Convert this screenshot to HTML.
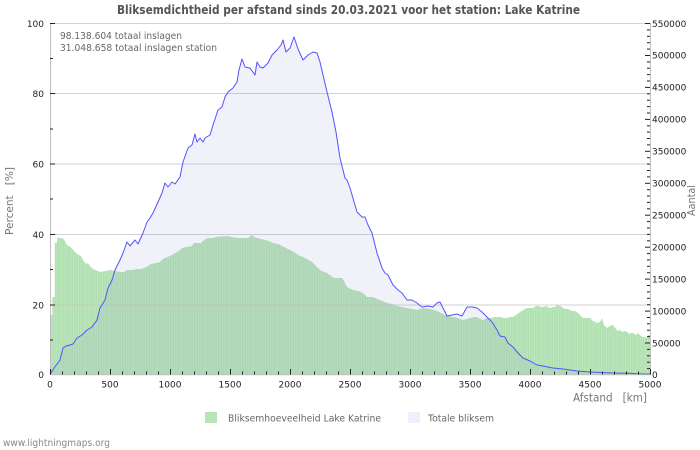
<!DOCTYPE html>
<html><head><meta charset="utf-8"><style>
html,body{margin:0;padding:0;background:#fff;}
svg{display:block;}
text{font-family:"DejaVu Sans","Liberation Sans",sans-serif;}
</style></head><body>
<svg width="700" height="450" viewBox="0 0 700 450" xmlns="http://www.w3.org/2000/svg">
<defs>
<pattern id="st" patternUnits="userSpaceOnUse" x="50" y="0" width="2.4" height="10">
<rect x="0" y="0" width="2.4" height="10" fill="#b0e0b0"/>
<rect x="1.8" y="0" width="0.6" height="10" fill="#c6ebc6"/>
</pattern>
</defs>
<rect width="700" height="450" fill="#fff"/>
<!-- title -->
<text x="348.5" y="14" text-anchor="middle" font-size="12" font-weight="bold" fill="#555" textLength="463" lengthAdjust="spacingAndGlyphs">Bliksemdichtheid per afstand sinds 20.03.2021 voor het station: Lake Katrine</text>

<!-- green bars -->
<polygon fill="url(#st)" points="50,374.5 50,315 52.4,315 52.4,297 54.8,297 54.8,243 57,243 57,238 62,238 64.4,240 66.8,245 69,246 71.6,248 74,251 76,253 79,255 81,256 83,260 86,264 88,263 90,266 93,269 95,270 98,271 100,272 105,271 110,270 115,271 120,272 124,272 127,270 134,270 136,269 141,269 144,268 146,267 148,266 151,264 156,263 160,262 163,259 165,258 170,256 172,255 175,253 177,252 180,250 182,248 187,247 192,246 194,243 201,243 204,240 208,238 213,238 216,237 227,236 232,237 237,238 243,238 248,238 252,235 254,237 257,238 261,239 265,240 269,241 273,243 278,244 282,246 286,248 290,250 294,252 297,254 300,256 303,257 307,259 312,262 316,266 320,270 324,272 327,273 330,275 334,278 342,278 344,281 347,287 353,290 358,291 363,293 367,297 373,297 380,300 387,303 392,304 397,306 402,307 407,308 412,309 417,310 423,308 430,309 437,311 441,313 445,315 449,316 453,317 458,318 463,320 467,319 470,318 474,317 477,317 480,319 483,320 487,318 490,318 495,317 500,317 504,318 507,318 510,317 513,317 516,315 520,312 523,310 527,308 530,308 533,308 536,306 538,306 541,307 543,307 546,306 550,308 553,307 555,307 557,305 560,306 562,307 565,309 568,309 572,311 575,311 578,313 581,316 583,318 587,318 590,318 593,321 597,323 600,322 602,318 604,325 607,328 610,326 613,325 615,328 618,331 620,330 622,332 625,331 627,332 629,334 631,333 633,333 636,335 638,333 641,336 643,337 645,337 647,338 648,335 650,335 650,374.5"/>

<!-- gridlines -->
<g stroke="#c4c4c4" stroke-width="1" opacity="0.75">
<line x1="50" y1="23.5" x2="650" y2="23.5"/>
<line x1="50" y1="93.5" x2="650" y2="93.5"/>
<line x1="50" y1="164" x2="650" y2="164"/>
<line x1="50" y1="234.5" x2="650" y2="234.5"/>
<line x1="50" y1="305" x2="650" y2="305"/>
</g>

<!-- total area -->
<polygon fill="#9090d8" fill-opacity="0.13" points="50,374.5 50,374 51,373 54,368 57,364 60,360 63,348 66,346 70,345 73,344 77,338 82,335 87,330 92,327 97,320 100,308 105,300 108,288 112,280 115,270 120,260 123,253 127,242 130,246 135,240 138,244 143,233 147,222 150,218 153,213 158,202 162,193 165,183 168,187 172,182 175,184 180,177 183,162 188,148 192,145 195,134 197,142 200,138 203,142 205,138 210,135 213,125 218,110 222,107 225,97 228,92 233,88 237,82 239,70 242,59 245,67 250,68 255,75 257,62 260,67 263,68 268,63 272,55 277,50 281,45 283,40 286,52 290,48 294,37 298,49 303,60 308,55 313,52 317,53 320,62 323,75 327,92 332,112 336,132 340,158 345,178 347,180 350,188 357,212 362,217 365,217 368,225 372,233 377,253 382,268 385,273 388,275 393,285 398,290 402,293 407,300 412,300 417,303 422,307 428,306 433,307 437,303 440,302 443,308 447,316 452,315 457,314 462,316 467,307 472,307 477,308 482,312 487,317 492,322 497,330 500,336 505,337 508,343 513,347 518,353 523,358 530,361 537,365 543,366 553,368 563,369 577,371 590,372 613,373 630,373.3 643,374 650,374 650,374.5"/>
<polyline fill="none" stroke="#5252ff" stroke-width="1" stroke-linejoin="round" points="50,374 51,373 54,368 57,364 60,360 63,348 66,346 70,345 73,344 77,338 82,335 87,330 92,327 97,320 100,308 105,300 108,288 112,280 115,270 120,260 123,253 127,242 130,246 135,240 138,244 143,233 147,222 150,218 153,213 158,202 162,193 165,183 168,187 172,182 175,184 180,177 183,162 188,148 192,145 195,134 197,142 200,138 203,142 205,138 210,135 213,125 218,110 222,107 225,97 228,92 233,88 237,82 239,70 242,59 245,67 250,68 255,75 257,62 260,67 263,68 268,63 272,55 277,50 281,45 283,40 286,52 290,48 294,37 298,49 303,60 308,55 313,52 317,53 320,62 323,75 327,92 332,112 336,132 340,158 345,178 347,180 350,188 357,212 362,217 365,217 368,225 372,233 377,253 382,268 385,273 388,275 393,285 398,290 402,293 407,300 412,300 417,303 422,307 428,306 433,307 437,303 440,302 443,308 447,316 452,315 457,314 462,316 467,307 472,307 477,308 482,312 487,317 492,322 497,330 500,336 505,337 508,343 513,347 518,353 523,358 530,361 537,365 543,366 553,368 563,369 577,371 590,372 613,373 630,373.3 643,374 650,374"/>

<!-- axes -->
<g stroke="#c0c0c0" stroke-width="1">
<line x1="50.5" y1="23" x2="50.5" y2="375"/>
<line x1="650.5" y1="23" x2="650.5" y2="375"/>
<line x1="50" y1="374.8" x2="651" y2="374.8"/>
</g>

<!-- left ticks -->
<g stroke="#222" stroke-width="1">
<line x1="50" y1="23.5" x2="55" y2="23.5"/>
<line x1="50" y1="58.5" x2="53" y2="58.5"/>
<line x1="50" y1="93.5" x2="55" y2="93.5"/>
<line x1="50" y1="129" x2="53" y2="129"/>
<line x1="50" y1="164" x2="55" y2="164"/>
<line x1="50" y1="199" x2="53" y2="199"/>
<line x1="50" y1="234.5" x2="55" y2="234.5"/>
<line x1="50" y1="269.5" x2="53" y2="269.5"/>
<line x1="50" y1="305" x2="55" y2="305"/>
<line x1="50" y1="340" x2="53" y2="340"/>
</g>
<g font-size="9" fill="#222" text-anchor="end">
<text x="44" y="26.8">100</text>
<text x="44" y="96.8">80</text>
<text x="44" y="167.3">60</text>
<text x="44" y="237.8">40</text>
<text x="44" y="308.3">20</text>
<text x="44" y="378">0</text>
</g>

<!-- right ticks -->
<g stroke="#222" stroke-width="1">
<line x1="645" y1="23.5" x2="650" y2="23.5"/><line x1="647" y1="29.9" x2="650" y2="29.9"/><line x1="647" y1="36.3" x2="650" y2="36.3"/><line x1="647" y1="42.7" x2="650" y2="42.7"/><line x1="647" y1="49.1" x2="650" y2="49.1"/>
<line x1="645" y1="55.5" x2="650" y2="55.5"/><line x1="647" y1="61.9" x2="650" y2="61.9"/><line x1="647" y1="68.2" x2="650" y2="68.2"/><line x1="647" y1="74.6" x2="650" y2="74.6"/><line x1="647" y1="81" x2="650" y2="81"/>
<line x1="645" y1="87.4" x2="650" y2="87.4"/><line x1="647" y1="93.8" x2="650" y2="93.8"/><line x1="647" y1="100.2" x2="650" y2="100.2"/><line x1="647" y1="106.6" x2="650" y2="106.6"/><line x1="647" y1="113" x2="650" y2="113"/>
<line x1="645" y1="119.4" x2="650" y2="119.4"/><line x1="647" y1="125.8" x2="650" y2="125.8"/><line x1="647" y1="132.1" x2="650" y2="132.1"/><line x1="647" y1="138.5" x2="650" y2="138.5"/><line x1="647" y1="144.9" x2="650" y2="144.9"/>
<line x1="645" y1="151.3" x2="650" y2="151.3"/><line x1="647" y1="157.7" x2="650" y2="157.7"/><line x1="647" y1="164.1" x2="650" y2="164.1"/><line x1="647" y1="170.5" x2="650" y2="170.5"/><line x1="647" y1="176.9" x2="650" y2="176.9"/>
<line x1="645" y1="183.3" x2="650" y2="183.3"/><line x1="647" y1="189.7" x2="650" y2="189.7"/><line x1="647" y1="196" x2="650" y2="196"/><line x1="647" y1="202.4" x2="650" y2="202.4"/><line x1="647" y1="208.8" x2="650" y2="208.8"/>
<line x1="645" y1="215.2" x2="650" y2="215.2"/><line x1="647" y1="221.6" x2="650" y2="221.6"/><line x1="647" y1="228" x2="650" y2="228"/><line x1="647" y1="234.4" x2="650" y2="234.4"/><line x1="647" y1="240.8" x2="650" y2="240.8"/>
<line x1="645" y1="247.2" x2="650" y2="247.2"/><line x1="647" y1="253.6" x2="650" y2="253.6"/><line x1="647" y1="259.9" x2="650" y2="259.9"/><line x1="647" y1="266.3" x2="650" y2="266.3"/><line x1="647" y1="272.7" x2="650" y2="272.7"/>
<line x1="645" y1="279.1" x2="650" y2="279.1"/><line x1="647" y1="285.5" x2="650" y2="285.5"/><line x1="647" y1="291.9" x2="650" y2="291.9"/><line x1="647" y1="298.3" x2="650" y2="298.3"/><line x1="647" y1="304.7" x2="650" y2="304.7"/>
<line x1="645" y1="311.1" x2="650" y2="311.1"/><line x1="647" y1="317.5" x2="650" y2="317.5"/><line x1="647" y1="323.8" x2="650" y2="323.8"/><line x1="647" y1="330.2" x2="650" y2="330.2"/><line x1="647" y1="336.6" x2="650" y2="336.6"/>
<line x1="645" y1="343" x2="650" y2="343"/><line x1="647" y1="349.4" x2="650" y2="349.4"/><line x1="647" y1="355.8" x2="650" y2="355.8"/><line x1="647" y1="362.2" x2="650" y2="362.2"/><line x1="647" y1="368.6" x2="650" y2="368.6"/>
</g>
<g font-size="9" fill="#222">
<text x="652" y="26.8">550000</text>
<text x="652" y="58.7">500000</text>
<text x="652" y="90.7">450000</text>
<text x="652" y="122.6">400000</text>
<text x="652" y="154.6">350000</text>
<text x="652" y="186.5">300000</text>
<text x="652" y="218.5">250000</text>
<text x="652" y="250.4">200000</text>
<text x="652" y="282.4">150000</text>
<text x="652" y="314.3">100000</text>
<text x="652" y="346.3">50000</text>
<text x="652" y="378">0</text>
</g>

<!-- bottom ticks -->
<g stroke="#222" stroke-width="1">
<line x1="50.5" y1="369" x2="50.5" y2="374.5"/><line x1="62.5" y1="371.5" x2="62.5" y2="374.5"/><line x1="74.5" y1="371.5" x2="74.5" y2="374.5"/><line x1="86.5" y1="371.5" x2="86.5" y2="374.5"/><line x1="98.5" y1="371.5" x2="98.5" y2="374.5"/>
<line x1="110.5" y1="369" x2="110.5" y2="374.5"/><line x1="122.5" y1="371.5" x2="122.5" y2="374.5"/><line x1="134.5" y1="371.5" x2="134.5" y2="374.5"/><line x1="146.5" y1="371.5" x2="146.5" y2="374.5"/><line x1="158.5" y1="371.5" x2="158.5" y2="374.5"/>
<line x1="170.5" y1="369" x2="170.5" y2="374.5"/><line x1="182.5" y1="371.5" x2="182.5" y2="374.5"/><line x1="194.5" y1="371.5" x2="194.5" y2="374.5"/><line x1="206.5" y1="371.5" x2="206.5" y2="374.5"/><line x1="218.5" y1="371.5" x2="218.5" y2="374.5"/>
<line x1="230.5" y1="369" x2="230.5" y2="374.5"/><line x1="242.5" y1="371.5" x2="242.5" y2="374.5"/><line x1="254.5" y1="371.5" x2="254.5" y2="374.5"/><line x1="266.5" y1="371.5" x2="266.5" y2="374.5"/><line x1="278.5" y1="371.5" x2="278.5" y2="374.5"/>
<line x1="290.5" y1="369" x2="290.5" y2="374.5"/><line x1="302.5" y1="371.5" x2="302.5" y2="374.5"/><line x1="314.5" y1="371.5" x2="314.5" y2="374.5"/><line x1="326.5" y1="371.5" x2="326.5" y2="374.5"/><line x1="338.5" y1="371.5" x2="338.5" y2="374.5"/>
<line x1="350.5" y1="369" x2="350.5" y2="374.5"/><line x1="362.5" y1="371.5" x2="362.5" y2="374.5"/><line x1="374.5" y1="371.5" x2="374.5" y2="374.5"/><line x1="386.5" y1="371.5" x2="386.5" y2="374.5"/><line x1="398.5" y1="371.5" x2="398.5" y2="374.5"/>
<line x1="410.5" y1="369" x2="410.5" y2="374.5"/><line x1="422.5" y1="371.5" x2="422.5" y2="374.5"/><line x1="434.5" y1="371.5" x2="434.5" y2="374.5"/><line x1="446.5" y1="371.5" x2="446.5" y2="374.5"/><line x1="458.5" y1="371.5" x2="458.5" y2="374.5"/>
<line x1="470.5" y1="369" x2="470.5" y2="374.5"/><line x1="482.5" y1="371.5" x2="482.5" y2="374.5"/><line x1="494.5" y1="371.5" x2="494.5" y2="374.5"/><line x1="506.5" y1="371.5" x2="506.5" y2="374.5"/><line x1="518.5" y1="371.5" x2="518.5" y2="374.5"/>
<line x1="530.5" y1="369" x2="530.5" y2="374.5"/><line x1="542.5" y1="371.5" x2="542.5" y2="374.5"/><line x1="554.5" y1="371.5" x2="554.5" y2="374.5"/><line x1="566.5" y1="371.5" x2="566.5" y2="374.5"/><line x1="578.5" y1="371.5" x2="578.5" y2="374.5"/>
<line x1="590.5" y1="369" x2="590.5" y2="374.5"/><line x1="602.5" y1="371.5" x2="602.5" y2="374.5"/><line x1="614.5" y1="371.5" x2="614.5" y2="374.5"/><line x1="626.5" y1="371.5" x2="626.5" y2="374.5"/><line x1="638.5" y1="371.5" x2="638.5" y2="374.5"/>
<line x1="650.5" y1="369" x2="650.5" y2="374.5"/>
</g>
<g font-size="9" fill="#222" text-anchor="middle">
<text x="50" y="387.5">0</text>
<text x="110" y="387.5">500</text>
<text x="170" y="387.5">1000</text>
<text x="230" y="387.5">1500</text>
<text x="290" y="387.5">2000</text>
<text x="350" y="387.5">2500</text>
<text x="410" y="387.5">3000</text>
<text x="470" y="387.5">3500</text>
<text x="530" y="387.5">4000</text>
<text x="590" y="387.5">4500</text>
<text x="650" y="387.5">5000</text>
</g>

<!-- info text -->
<text x="60" y="39" font-size="9.5" fill="#666" textLength="122" lengthAdjust="spacingAndGlyphs">98.138.604 totaal inslagen</text>
<text x="60" y="51" font-size="9.5" fill="#666" textLength="157" lengthAdjust="spacingAndGlyphs">31.048.658 totaal inslagen station</text>

<!-- axis titles -->
<text x="573" y="401.3" font-size="11.5" fill="#777" textLength="74" lengthAdjust="spacingAndGlyphs" xml:space="preserve">Afstand   [km]</text>
<text transform="translate(13,235) rotate(-90)" font-size="11" fill="#777" textLength="68" lengthAdjust="spacingAndGlyphs" xml:space="preserve">Percent   [%]</text>
<text transform="translate(695,216) rotate(-90)" font-size="11" fill="#777" textLength="31" lengthAdjust="spacingAndGlyphs">Aantal</text>

<!-- legend -->
<rect x="205" y="412" width="12" height="11" fill="#b8e4b8"/>
<text x="228" y="421.5" font-size="9.5" fill="#666" textLength="153" lengthAdjust="spacingAndGlyphs">Bliksemhoeveelheid Lake Katrine</text>
<rect x="408" y="412" width="12" height="11" fill="#f0f0fc"/>
<text x="428" y="421.5" font-size="9.5" fill="#666" textLength="66" lengthAdjust="spacingAndGlyphs">Totale bliksem</text>

<!-- watermark -->
<text x="3" y="446" font-size="9.5" fill="#888" textLength="107" lengthAdjust="spacingAndGlyphs">www.lightningmaps.org</text>
</svg>
</body></html>
